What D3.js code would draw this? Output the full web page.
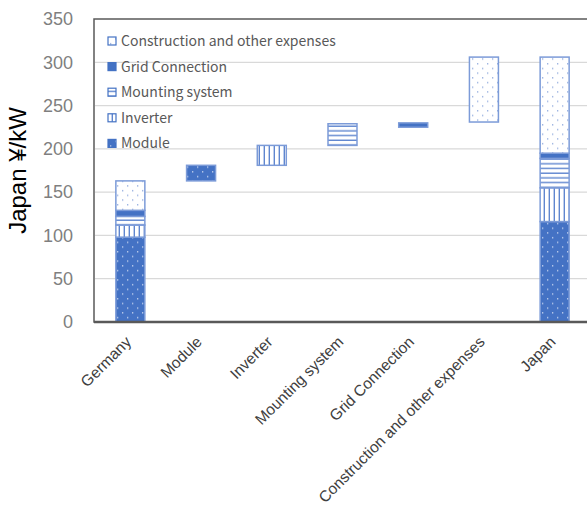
<!DOCTYPE html>
<html>
<head>
<meta charset="utf-8">
<script src="https://cdn.jsdelivr.net/npm/d3@7"></script>
<style>
  html, body { margin: 0; padding: 0; background: #fff; }
  svg { display: block; }
</style>
</head>
<body>
<svg id="chart" width="587" height="510"></svg>
<script>
// Cost breakdown of PV systems: Germany vs Japan, with the step-by-step gap between them.
const categories = ["Germany", "Module", "Inverter", "Mounting system", "Grid Connection", "Construction and other expenses", "Japan"];
const components = ["Module", "Inverter", "Mounting system", "Grid Connection", "Construction and other expenses"];
const germanyValues = [98, 14, 10, 7, 34];
const japanValues = [116, 39, 34, 6, 111];
// Floating bars between the two totals (low / high ends)
const stepLow = [163, 181, 204, 225, 231];
const stepHigh = [181, 204, 229, 230, 306];
const yTicks = [0, 50, 100, 150, 200, 250, 300, 350];

const blue = "#4472C4";
const edge = "#7c9bd8";
const svg = d3.select("#chart");

const margin = { left: 95, right: -3, top: 19, bottom: 188 };
const W = 587, H = 510;

const x = d3.scaleBand().domain(categories).range([margin.left, W - margin.right]).paddingInner(0.59).paddingOuter(0.295);
const y = d3.scaleLinear().domain([0, 350]).range([H - margin.bottom, margin.top]);

// Fill patterns
const defs = svg.append("defs");
function dots(id, bg, dot, r) {
  const p = defs.append("pattern").attr("id", id).attr("patternUnits", "userSpaceOnUse")
    .attr("width", 10).attr("height", 9.4);
  p.append("rect").attr("width", 10).attr("height", 9.4).attr("fill", bg);
  p.append("rect").attr("x", 2).attr("y", 2).attr("width", r).attr("height", r).attr("fill", dot);
  p.append("rect").attr("x", 7).attr("y", 6.7).attr("width", r).attr("height", r).attr("fill", dot);
}
dots("pModule", blue, "#c9d6f0", 1.3);
dots("pConstruction", "#ffffff", "#8ea9dd", 1.3);
const pv = defs.append("pattern").attr("id", "pInverter").attr("patternUnits", "userSpaceOnUse")
  .attr("width", 5).attr("height", 5);
pv.append("rect").attr("width", 5).attr("height", 5).attr("fill", "#fff");
pv.append("rect").attr("x", 3.6).attr("width", 1.4).attr("height", 5).attr("fill", "#5f86cf");
const ph = defs.append("pattern").attr("id", "pMounting").attr("patternUnits", "userSpaceOnUse")
  .attr("width", 5).attr("height", 4.7);
ph.append("rect").attr("width", 5).attr("height", 4.7).attr("fill", "#fff");
ph.append("rect").attr("y", 3.3).attr("width", 5).attr("height", 1.4).attr("fill", "#5f86cf");
const fills = {
  "Module": "url(#pModule)",
  "Inverter": "url(#pInverter)",
  "Mounting system": "url(#pMounting)",
  "Grid Connection": blue,
  "Construction and other expenses": "url(#pConstruction)"
};

// Gridlines
svg.append("g").selectAll("line").data(yTicks.filter(d => d > 0 && d < 350)).join("line")
  .attr("x1", margin.left).attr("x2", W)
  .attr("y1", d => y(d)).attr("y2", d => y(d))
  .attr("stroke", "#d9d9d9").attr("stroke-width", 1.2);

// Y axis
const yAxis = svg.append("g").attr("transform", `translate(${margin.left},0)`)
  .call(d3.axisLeft(y).tickValues(yTicks).tickSize(0).tickPadding(22));
yAxis.select(".domain").remove();
yAxis.selectAll("text").attr("fill", "#7f7f7f").style("font-family", "Liberation Sans, Arial, sans-serif").style("font-size", "18px");

svg.append("text")
  .attr("transform", `translate(26,${(y(0) + y(350)) / 2}) rotate(-90)`)
  .attr("text-anchor", "middle")
  .style("font-family", "Liberation Sans, Arial, sans-serif").style("font-size", "24px")
  .attr("fill", "#000").text("Japan ¥/kW");

// Stacked bars for the two countries
function stack(cat, values) {
  let base = 0;
  const segs = values.map((v, i) => { const s = { cat, comp: components[i], y0: base, y1: base + v }; base += v; return s; });
  return segs;
}
const stacked = stack("Germany", germanyValues).concat(stack("Japan", japanValues));
const bars = svg.append("g");
bars.selectAll("rect.stk").data(stacked).join("rect").attr("class", "stk")
  .attr("x", d => x(d.cat)).attr("width", x.bandwidth())
  .attr("y", d => y(d.y1)).attr("height", d => y(d.y0) - y(d.y1))
  .attr("fill", d => fills[d.comp]).attr("stroke", edge).attr("stroke-width", 1.5);

// Floating step bars
const steps = components.map((c, i) => ({ cat: c, comp: c, y0: stepLow[i], y1: stepHigh[i] }));
bars.selectAll("rect.step").data(steps).join("rect").attr("class", "step")
  .attr("x", d => x(d.cat)).attr("width", x.bandwidth())
  .attr("y", d => y(d.y1)).attr("height", d => y(d.y0) - y(d.y1))
  .attr("fill", d => fills[d.comp]).attr("stroke", edge).attr("stroke-width", 1.5);

// Plot frame
svg.append("rect").attr("x", margin.left - 1).attr("y", y(350))
  .attr("width", W).attr("height", y(0) - y(350))
  .attr("fill", "none").attr("stroke", "#595959").attr("stroke-width", 1.5);
svg.append("line").attr("x1", margin.left - 1).attr("x2", W).attr("y1", y(0)).attr("y2", y(0))
  .attr("stroke", "#595959").attr("stroke-width", 2.5);

// X axis labels
svg.append("g").selectAll("text").data(categories).join("text")
  .attr("transform", d => `translate(${x(d) + x.bandwidth() / 2 - 2},${y(0) + 17}) rotate(-45)`)
  .attr("text-anchor", "end").attr("dy", "0.35em")
  .style("font-family", "Liberation Sans, Arial, sans-serif").style("font-size", "15.5px")
  .attr("fill", "#404040").text(d => d);

// Legend (top of the stack listed first)
const legendItems = components.slice().reverse();
const lg = svg.append("g").attr("transform", "translate(108,41)");
const li = lg.selectAll("g").data(legendItems).join("g").attr("transform", (d, i) => `translate(0,${i * 25.6})`);
li.append("rect").attr("x", 0).attr("y", -4).attr("width", 8).attr("height", 8)
  .attr("fill", d => fills[d]).attr("stroke", blue).attr("stroke-width", 1.2);
li.append("text").attr("x", 13).attr("dy", "0.35em")
  .style("font-family", "Noto Sans CJK KR, Noto Sans, sans-serif").style("font-size", "14px")
  .attr("fill", "#595959").text(d => d);
</script>
</body>
</html>
